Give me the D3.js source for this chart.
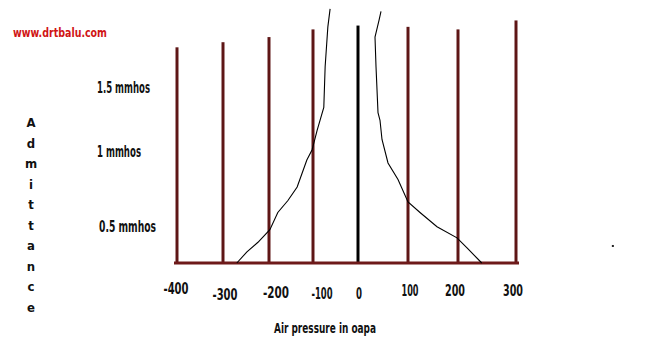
<!DOCTYPE html>
<html><head><meta charset="utf-8">
<script src="https://cdn.jsdelivr.net/npm/d3@7"></script>
<style>html,body{margin:0;padding:0;background:#fff;overflow:hidden}</style>
</head><body><svg id="chart" width="669" height="338"></svg>
<script>
// Pressure axis (daPa) and admittance axis (mmhos)
const pressureTicks = [-400, -300, -200, -100, 0, 100, 200, 300];
const pressureLabels = ["-400", "-300", "-200", "-100", "0", "100", "200", "300"];
const admittanceTicks = [0.5, 1, 1.5];
const admittanceLabels = ["0.5 mmhos", "1 mmhos", "1.5 mmhos"];
// height (mmhos) each pressure line reaches
const gridTop = [1.81, 1.85, 1.89, 1.95, 1.98, 1.97, 1.95, 2.02];

// Tympanogram trace: [pressure daPa, admittance mmhos]
const leftBranch = [
  [-62, 2.11], [-67, 1.97], [-73, 1.66], [-76, 1.34], [-91, 1.16], [-96, 1.09],
  [-102, 1.01], [-114, 0.94], [-136, 0.76], [-157, 0.67], [-180, 0.59],
  [-198, 0.45], [-224, 0.28], [-248, 0.15], [-270, 0]
];
const rightBranch = [
  [46, 2.09], [42, 2.02], [34, 1.89], [36, 1.66], [40, 1.30], [44, 1.24],
  [48, 1.09], [60, 0.92], [80, 0.81], [100, 0.66], [124, 0.59], [158, 0.49],
  [198, 0.34], [216, 0.20], [241, 0]
];
const strayMark = [[467, 0.23]];

const siteName = "www.drtbalu.com";
const xTitle = "Air pressure in oapa";
const yTitle = "Admittance";

const svg = d3.select("#chart");
const FONT = "'Liberation Sans Narrow','DejaVu Sans Condensed',Arial,sans-serif";

// hand-spaced axes: piecewise linear scales
const x = d3.scaleLinear().domain(pressureTicks).range([177, 223, 269, 313, 358, 408, 458, 516]);
const y = d3.scaleLinear().domain([0, 0.5, 1, 1.5]).range([263, 226, 151, 87]);

const lineColor = "#5e1616";

// vertical pressure lines
svg.append("g").selectAll("line").data(pressureTicks).join("line")
  .attr("x1", d => x(d)).attr("x2", d => x(d))
  .attr("y1", y(0)).attr("y2", (d, i) => y(gridTop[i]))
  .attr("stroke", d => d === 0 ? "#000" : lineColor)
  .attr("stroke-width", 3);

// baseline
svg.append("line")
  .attr("x1", x(-400) - 3).attr("x2", x(300) + 3)
  .attr("y1", y(0)).attr("y2", y(0))
  .attr("stroke", "#6e1a1a").attr("stroke-width", 3);

// trace
const line = d3.line().x(d => x(d[0])).y(d => y(d[1]));
svg.append("g").selectAll("path").data([leftBranch, rightBranch]).join("path")
  .attr("d", line).attr("fill", "none")
  .attr("stroke", "#000").attr("stroke-width", 1.1);

svg.selectAll("rect.stray").data(strayMark).join("rect").attr("class", "stray")
  .attr("x", d => x(d[0]) - 1).attr("y", d => y(d[1]) - 1)
  .attr("width", 2).attr("height", 2).attr("fill", "#222");

// squeeze text into a fixed width (narrow lettering)
function fit(sel, widthOf) {
  sel.attr("textLength", widthOf).attr("lengthAdjust", "spacingAndGlyphs");
}

// pressure labels, hand-lettered so each sits a little off its line
const tickDx = [-1, 2, 7, 9, 1, 2, -3, -3];
const tickBase = [294, 300, 298, 299, 299, 296, 296, 296];
const tickW = [25, 25, 26, 21, 6, 17, 20, 20];
svg.append("g").selectAll("text").data(pressureTicks).join("text")
  .attr("x", (d, i) => x(d) + tickDx[i] - tickW[i] / 2).attr("y", (d, i) => tickBase[i])
  .attr("font-family", FONT).attr("font-weight", "bold").attr("font-size", 15)
  .attr("fill", "#111")
  .text((d, i) => pressureLabels[i])
  .call(fit, (d, i) => tickW[i]);

// admittance labels
const admW = [57, 44, 53];
svg.append("g").selectAll("text").data(admittanceTicks).join("text")
  .attr("x", (d, i) => i === 0 ? 99 : 97).attr("y", d => y(d) + 5.5)
  .attr("font-family", FONT).attr("font-weight", "bold").attr("font-size", 15)
  .attr("fill", "#111")
  .text((d, i) => admittanceLabels[i])
  .call(fit, (d, i) => admW[i]);

// axis titles
svg.append("text").attr("x", 274).attr("y", 333)
  .attr("font-family", FONT).attr("font-weight", "bold").attr("font-size", 14)
  .attr("fill", "#111").text(xTitle).call(fit, 102);

svg.append("g").selectAll("text").data(yTitle.split("")).join("text")
  .attr("x", 31).attr("y", (d, i) => 127 + i * 20.5)
  .attr("text-anchor", "middle")
  .attr("font-family", FONT).attr("font-weight", "bold").attr("font-size", 13)
  .attr("fill", "#111").text(d => d);

svg.append("text").attr("x", 13).attr("y", 37)
  .attr("font-family", FONT).attr("font-weight", "bold").attr("font-size", 13)
  .attr("fill", "#d01515").text(siteName).call(fit, 94);
</script></body></html>
